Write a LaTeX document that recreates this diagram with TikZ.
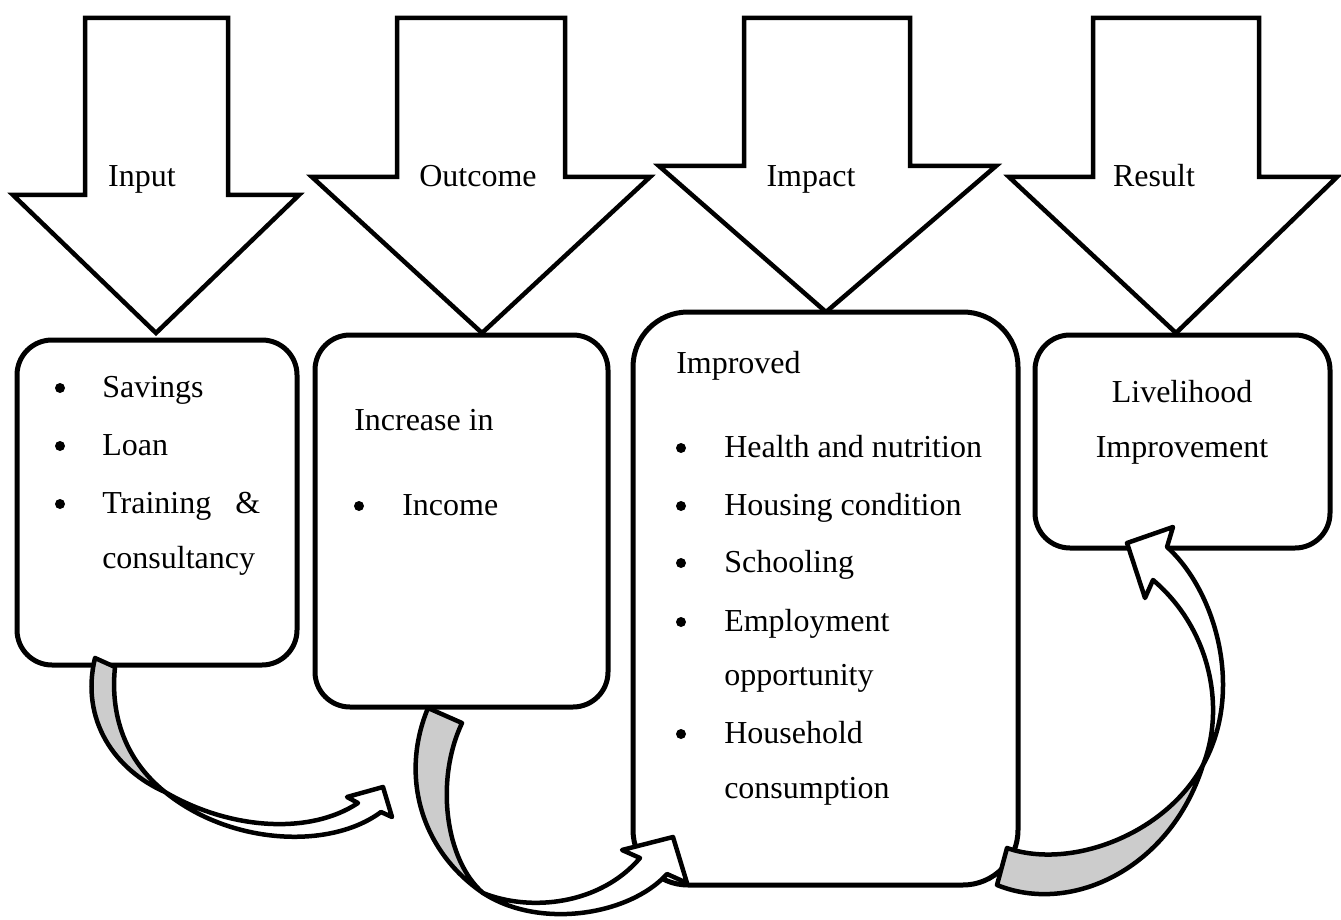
\documentclass[tikz,border=0pt]{standalone}
\usepackage{fontspec}
\setmainfont{Liberation Serif}
\definecolor{backgray}{RGB}{204,204,204}
\begin{document}
\begin{tikzpicture}[x=1pt,y=-1pt,line width=4.5pt,
  blockarrow/.style={draw=black,fill=white,line join=miter},
  box/.style={draw=black,fill=white,rounded corners=#1,inner sep=0pt,line width=5pt},
  box/.default=35pt,
  txt/.style={font=\fontsize{32}{38}\selectfont,inner sep=0pt,anchor=base west},
  ctxt/.style={font=\fontsize{32}{38}\selectfont,inner sep=0pt,anchor=base},
  bul/.style={circle,fill=black,draw=none,inner sep=0pt,minimum size=10pt},
  backface/.style={draw=black,fill=backgray,line join=round},
  frontface/.style={draw=black,fill=white,line join=round}]
\useasboundingbox (0,0) rectangle (1341,920);

% top block arrows
\draw[blockarrow] (85,18) -- (228,18) -- (228,195) -- (299,195) -- (156,333) -- (13,195) -- (85,195) -- cycle;
\node[ctxt] (tInput) at (142,187) {Input};
\draw[blockarrow] (397,18) -- (565,18) -- (565,177) -- (650,177) -- (482,333) -- (312,177) -- (397,177) -- cycle;
\node[ctxt] (tOutcome) at (478,187) {Outcome};
\draw[blockarrow] (744,18) -- (910,18) -- (910,166) -- (996,166) -- (826,312) -- (659,166) -- (744,166) -- cycle;
\node[ctxt] (tImpact) at (811,187) {Impact};
\draw[blockarrow] (1093,18) -- (1259,18) -- (1259,177) -- (1337,177) -- (1176,333) -- (1009,177) -- (1093,177) -- cycle;
\node[ctxt] (tResult) at (1154,187) {Result};

% boxes
\node[box, minimum width=280pt, minimum height=325pt] (b1) at (157,502.5) {};
\node[box, minimum width=293pt, minimum height=372pt] (b2) at (461.5,521) {};
\node[box=55pt, minimum width=385pt, minimum height=573pt] (b3) at (825.5,598.5) {};
\node[box, minimum width=295pt, minimum height=213pt] (b4) at (1182.5,441.5) {};

% box 1 text
\node[bul] (u11) at (60,388) {};
\node[txt] (s11) at (100,397) {Savings};
\node[bul] (u12) at (60,446) {};
\node[txt] (s12) at (100,455) {Loan};
\node[bul] (u13) at (60,504) {};
\node[txt] (s13) at (100,513) {\hbox to 158pt{Training\hfill\&}};
\node[txt] (s14) at (100,568) {consultancy};

% box 2 text
\node[txt] (s21) at (352,430) {Increase in};
\node[bul] (u22) at (359,506) {};
\node[txt] (s22) at (400,515) {Income};

% box 3 text
\node[txt] (s31) at (674,373) {Improved};
\node[bul] (u32) at (681,448) {};
\node[txt] (s32) at (722,457) {Health and nutrition};
\node[bul] (u33) at (681,506) {};
\node[txt] (s33) at (722,515) {Housing condition};
\node[bul] (u34) at (681,563) {};
\node[txt] (s34) at (722,572) {Schooling};
\node[bul] (u35) at (681,622) {};
\node[txt] (s35) at (722,631) {Employment};
\node[txt] (s36) at (722,685) {opportunity};
\node[bul] (u37) at (681,734) {};
\node[txt] (s37) at (722,743) {Household};
\node[txt] (s38) at (722,798) {consumption};

% box 4 text
\node[ctxt] (s41) at (1182,402) {Livelihood};
\node[ctxt] (s42) at (1182,457) {Improvement};

% curved arrow 1
\path[backface] (95,658) .. controls (80,720) and (115,770) .. (165,792)
  .. controls (125,760) and (110,715) .. (115,667) -- cycle;
\path[frontface] (165,792) .. controls (230,830) and (310,835) .. (358,803)
  -- (347,797) -- (383,787) -- (392,817) -- (381,812)
  .. controls (330,850) and (230,845) .. (165,792) -- cycle;

% curved arrow 2
\path[backface] (428,708) .. controls (400,775) and (420,850) .. (483,893)
  .. controls (445,860) and (435,780) .. (462,723) -- cycle;
\path[frontface] (483,893) .. controls (530,912) and (600,905) .. (640,858)
  -- (622,850) -- (673,837) -- (687,883) -- (667,874)
  .. controls (630,915) and (540,930) .. (483,893) -- cycle;

% curved arrow 3
\path[backface] (1007,848) .. controls (1070,870) and (1165,835) .. (1203,765)
  .. controls (1170,870) and (1070,915) .. (997,885) -- cycle;
\path[frontface] (1203,765) .. controls (1225,710) and (1212,630) .. (1153,580)
  -- (1145,598) -- (1127,543) -- (1173,527) -- (1167,547)
  .. controls (1215,590) and (1245,690) .. (1203,765) -- cycle;
\end{tikzpicture}
\end{document}
